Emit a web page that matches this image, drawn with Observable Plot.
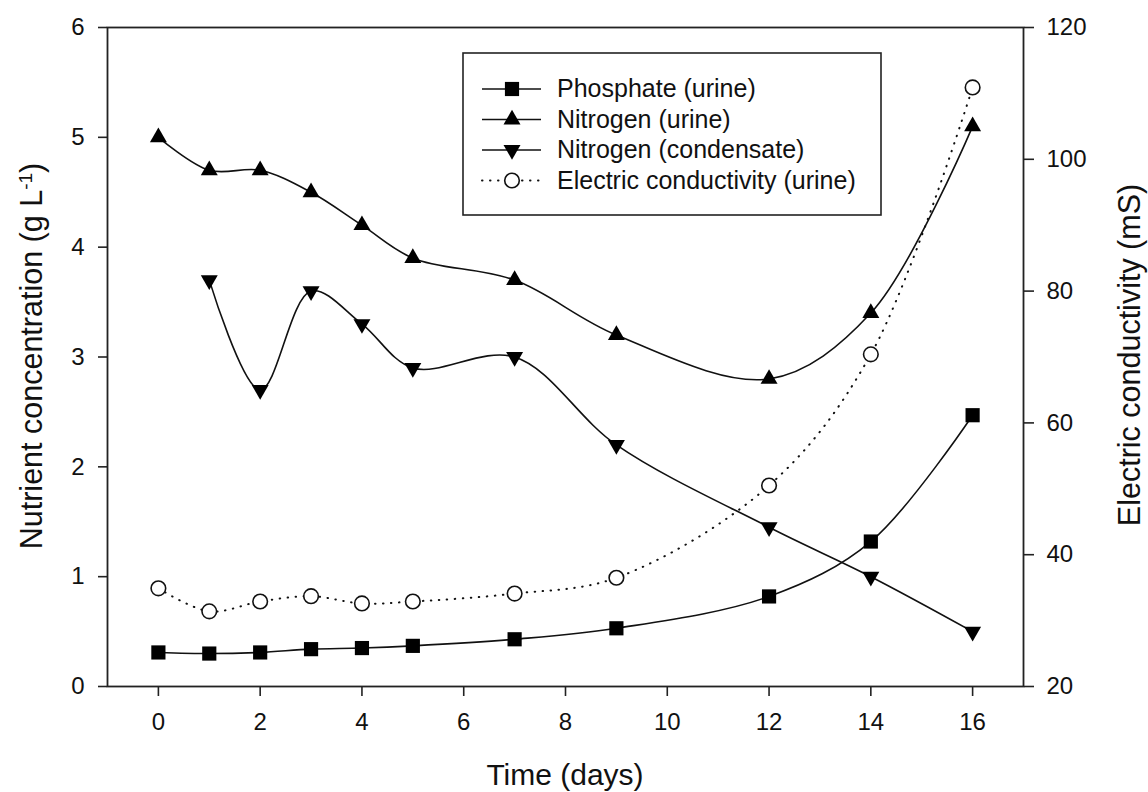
<!DOCTYPE html>
<html><head><meta charset="utf-8">
<script src="https://cdn.jsdelivr.net/npm/d3@7"></script>
<script src="https://cdn.jsdelivr.net/npm/@observablehq/plot@0.6"></script>
<style>
body{margin:0;background:#fff;}
#wrap{position:relative;width:1148px;height:792px;}
</style></head><body><div id="wrap"></div>
<script>
// ---- data ----
const days = [0, 1, 2, 3, 4, 5, 7, 9, 12, 14, 16];
const phosphate = [0.31, 0.30, 0.31, 0.34, 0.35, 0.37, 0.43, 0.53, 0.82, 1.32, 2.47];
const nitrogenUrine = [5.0, 4.7, 4.7, 4.5, 4.2, 3.9, 3.7, 3.2, 2.8, 3.4, 5.1];
const condDays = [1, 2, 3, 4, 5, 7, 9, 12, 14, 16];
const nitrogenCond = [3.7, 2.7, 3.6, 3.3, 2.9, 3.0, 2.2, 1.45, 1.0, 0.5];
const conductivity = [34.9, 31.4, 32.9, 33.7, 32.6, 32.9, 34.1, 36.5, 50.5, 70.4, 110.9];
const xTicks = [0, 2, 4, 6, 8, 10, 12, 14, 16];
const yTicks = [0, 1, 2, 3, 4, 5, 6];
const ecTicks = [20, 40, 60, 80, 100, 120];
const seriesNames = ["Phosphate (urine)", "Nitrogen (urine)", "Nitrogen (condensate)", "Electric conductivity (urine)"];

// ---- helpers ----
const FONT = "'Liberation Sans', Arial, sans-serif";
const ecToY = d3.scaleLinear([20, 120], [0, 6]);
const sqrt3 = Math.sqrt(3);
const triangleDown = {
  draw(context, size) {
    const y = -Math.sqrt(size / (sqrt3 * 3));
    context.moveTo(0, -y * 2);
    context.lineTo(-sqrt3 * y, y);
    context.lineTo(sqrt3 * y, y);
    context.closePath();
  }
};

const phos = days.map((d, i) => ({x: d, y: phosphate[i]}));
const nUr = days.map((d, i) => ({x: d, y: nitrogenUrine[i]}));
const nCo = condDays.map((d, i) => ({x: d, y: nitrogenCond[i]}));
const ecD = days.map((d, i) => ({x: d, y: ecToY(conductivity[i])}));

const lineOpts = {x: "x", y: "y", curve: "catmull-rom", stroke: "#111", strokeWidth: 1.6};
const DOTS = "0.5,7.5";

const chart = Plot.plot({
  width: 1148, height: 792,
  marginLeft: 107, marginRight: 125, marginTop: 27, marginBottom: 106,
  style: {fontFamily: FONT, fontSize: "24px", color: "#222", background: "#fff"},
  x: {domain: [-1, 17]},
  y: {domain: [0, 6]},
  marks: [
    Plot.axisX({ticks: xTicks, tickFormat: d3.format("d"), tickSize: 10, tickPadding: 16, label: null, strokeWidth: 1.6}),
    Plot.axisY({ticks: yTicks, tickFormat: d3.format("d"), tickSize: 9, tickPadding: 14, label: null, strokeWidth: 1.6}),
    Plot.axisY({anchor: "right", ticks: ecTicks.map(ecToY), tickFormat: v => Math.round(ecToY.invert(v)),
      tickSize: 10, tickPadding: 13, label: null, strokeWidth: 1.6}),
    Plot.frame({stroke: "#222", strokeWidth: 1.8}),
    Plot.line(ecD, {...lineOpts, strokeDasharray: DOTS, strokeLinecap: "round", strokeWidth: 2}),
    Plot.line(phos, lineOpts),
    Plot.line(nUr, lineOpts),
    Plot.line(nCo, lineOpts),
    Plot.dot(phos, {x: "x", y: "y", symbol: "square", r: 8, fill: "#000"}),
    Plot.dot(nUr, {x: "x", y: "y", symbol: "triangle", r: 6.3, fill: "#000"}),
    Plot.dot(nCo, {x: "x", y: "y", symbol: triangleDown, r: 6.3, fill: "#000"}),
    Plot.dot(ecD, {x: "x", y: "y", symbol: "circle", r: 7.3, fill: "#fff", stroke: "#111", strokeWidth: 1.6})
  ]
});

document.getElementById("wrap").appendChild(chart);
const svg = d3.select(chart);
svg.selectAll("g[aria-label$='tick label']").attr("font-size", 24).selectAll("text").style("font-size", "24px").attr("fill", "#111");

// axis titles
svg.append("text").attr("x", 565).attr("y", 785).attr("text-anchor", "middle")
  .style("font-size", "30px").style("font-family", FONT).attr("fill", "#111")
  .text("Time (days)");
const lt = svg.append("text").attr("transform", "translate(42,356) rotate(-90)").attr("text-anchor", "middle")
  .style("font-size", "30.5px").style("font-family", FONT).attr("fill", "#111");
lt.append("tspan").text("Nutrient concentration (g L");
lt.append("tspan").attr("baseline-shift", "super").style("font-size", "19px").text("-1");
lt.append("tspan").text(")");
svg.append("text").attr("transform", "translate(1140,355) rotate(-90)").attr("text-anchor", "middle")
  .style("font-size", "30.5px").style("font-family", FONT).attr("fill", "#111")
  .text("Electric conductivity (mS)");

// legend
const lg = svg.append("g");
lg.append("rect").attr("x", 463).attr("y", 53).attr("width", 418).attr("height", 162)
  .attr("fill", "#fff").attr("stroke", "#222").attr("stroke-width", 1.6);
const rowY = [89, 119.5, 150, 180.5];
const syms = [d3.symbolSquare, d3.symbolTriangle, triangleDown, d3.symbolCircle];
const sizes = [Math.PI * 64, Math.PI * 6.3 * 6.3, Math.PI * 6.3 * 6.3, Math.PI * 7.3 * 7.3];
seriesNames.forEach((name, i) => {
  const y = rowY[i];
  const isEc = i === 3;
  lg.append("line").attr("x1", 482).attr("x2", 541).attr("y1", y).attr("y2", y)
    .attr("stroke", "#111").attr("stroke-width", isEc ? 2 : 1.6)
    .attr("stroke-dasharray", isEc ? DOTS : null).attr("stroke-linecap", isEc ? "round" : null);
  lg.append("path").attr("transform", `translate(512,${y})`)
    .attr("d", d3.symbol(syms[i], sizes[i])())
    .attr("fill", isEc ? "#fff" : "#000").attr("stroke", isEc ? "#111" : null).attr("stroke-width", 1.6);
  lg.append("text").attr("x", 557).attr("y", y + 8).attr("text-anchor", "start")
    .style("font-size", "25px").style("font-family", FONT).attr("fill", "#111").text(name);
});
</script>
</body></html>
